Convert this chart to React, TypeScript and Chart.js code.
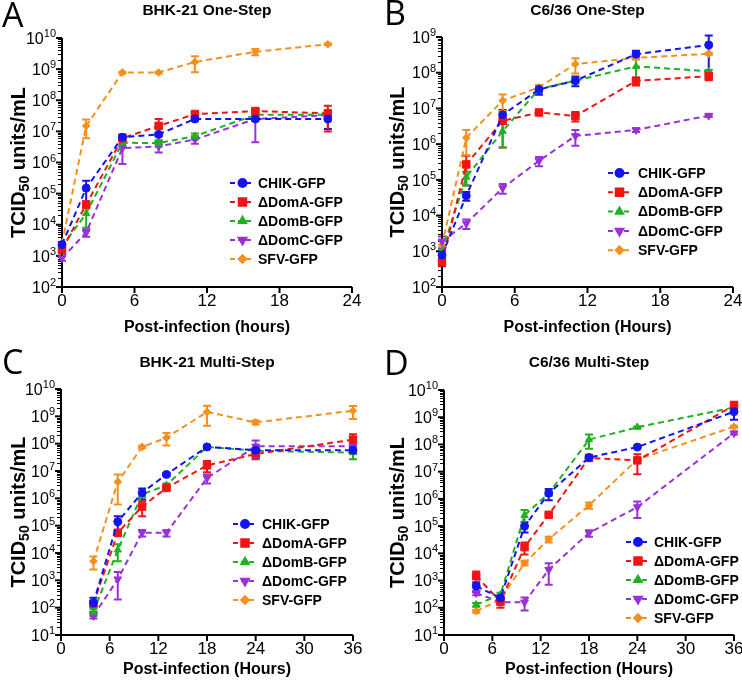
import React, { useEffect, useRef } from 'react';
import { Chart, registerables } from 'chart.js';
import { drawPoint } from 'chart.js/helpers';
Chart.register(...registerables);

// ---------- data ----------
const timesOneStep = [0, 2, 5, 8, 11, 16, 22];
const timesMultiStep = [4, 7, 10, 13, 18, 24, 36];
const seriesNames = ['CHIK-GFP', 'ΔDomA-GFP', 'ΔDomB-GFP', 'ΔDomC-GFP', 'SFV-GFP'];
const xTicksOneStep = [0, 6, 12, 18, 24];
const xTicksMultiStep = [0, 6, 12, 18, 24, 30, 36];

// A: BHK-21 One-Step
const aChik = [2.3e3, 1.5e5, 6.5e6, 8e6, 2.5e7, 2.5e7, 2.5e7];
const aChikSd = [4e2, 1.1e5, 1.5e6, 1e6, 3e6, 3e6, 1.3e7];
const aDomA = [1.6e3, 4.5e4, 6e6, 1.5e7, 3.6e7, 4.5e7, 3.8e7];
const aDomASd = [4e2, 1e4, 1e6, 1e7, 5e6, 8e6, 2.8e7];
const aDomB = [2e3, 2.3e4, 4.3e6, 4.2e6, 7e6, 3.4e7, 3.4e7];
const aDomBSd = [3e2, 1.5e4, 1e6, 1e6, 1.5e6, 5e6, 6e6];
const aDomC = [8.5e2, 5.6e3, 2.9e6, 3.3e6, 5.5e6, 2.5e7, 3.3e7];
const aDomCSd = [1.5e2, 1.5e3, 2e6, 1.2e6, 1.5e6, 2.05e7, 5e6];
const aSfv = [2.5e3, 1.5e7, 7.8e8, 7.8e8, 1.7e9, 3.6e9, 6.3e9];
const aSfvSd = [3e2, 9e6, 5e7, 5e7, 9e8, 8e8, 3e8];

// B: C6/36 One-Step
const bChik = [7.8e2, 3.6e4, 6.6e6, 3.4e7, 6e7, 3.3e8, 6e8];
const bChikSd = [2e2, 1e4, 2.5e6, 1e7, 1.8e7, 8e7, 5.1e8];
const bDomA = [5e2, 2.7e5, 4.5e6, 7.7e6, 6.1e6, 5.9e7, 8e7];
const bDomASd = [1.2e2, 2e5, 3.7e6, 1e6, 1.8e6, 1.5e7, 1.8e7];
const bDomB = [1e3, 1.2e5, 2.3e6, 3.5e7, 6e7, 1.5e8, 1.1e8];
const bDomBSd = [2e2, 5e4, 1.5e6, 8e6, 1e7, 8.7e7, 1e7];
const bDomC = [1.9e3, 6e3, 5.9e4, 3.4e5, 1.7e6, 2.5e6, 6.3e6];
const bDomCSd = [7e2, 1.8e3, 1.8e4, 1e5, 8e5, 3e5, 5e5];
const bSfv = [1.5e3, 1.5e6, 1.65e7, 3.9e7, 1.75e8, 2.6e8, 3.4e8];
const bSfvSd = [5e2, 1e6, 8e6, 5e6, 8e7, 2e7, 2e7];

// C: BHK-21 Multi-Step
const cChik = [1.5e2, 1.4e5, 1.6e6, 7.5e6, 7.6e7, 5.8e7, 5.8e7];
const cChikSd = [8e1, 8e4, 7e5, 1e6, 8e6, 1e7, 1.5e7];
const cDomA = [1.4e2, 5.5e4, 5e5, 2.4e6, 1.6e7, 4.2e7, 1.4e8];
const cDomASd = [3e1, 1e4, 2.8e5, 3e5, 7e6, 1.5e7, 8e7];
const cDomB = [7e1, 1.3e4, 1.4e6, 3e6, 7.6e7, 5.5e7, 4.7e7];
const cDomBSd = [2e1, 8e3, 3e5, 5e5, 8e6, 1e7, 2e7];
const cDomC = [5e1, 1.1e3, 5.5e4, 5.5e4, 5.5e6, 8e7, 8e7];
const cDomCSd = [1e1, 9e2, 1.5e4, 1.5e4, 2e6, 5e7, 1e7];
const cSfv = [5e3, 4e6, 7.6e7, 1.65e8, 1.45e9, 6e8, 1.6e9];
const cSfvSd = [2.5e3, 3.4e6, 8e6, 8e7, 1e9, 1e8, 8e8];

// D: C6/36 Multi-Step
const dChik = [6.2e2, 2.3e2, 9.8e4, 1.6e6, 3.3e7, 8e7, 1.6e9];
const dChikSd = [2.5e2, 5e1, 4e4, 7e5, 5e6, 5e6, 8e8];
const dDomA = [1.45e3, 1.7e2, 1.7e4, 2.6e5, 3.2e7, 2.6e7, 2.7e9];
const dDomASd = [7e2, 7e1, 8e3, 3e4, 4e6, 1.8e7, 1e9];
const dDomB = [1.3e2, 3e2, 2.5e5, 1.6e6, 1.5e8, 4.3e8, 2.3e9];
const dDomBSd = [2e1, 6e1, 1.4e5, 3e5, 8e7, 3e7, 2e8];
const dDomC = [3.5e2, 1.6e2, 1.6e2, 2.5e3, 5.6e4, 5e5, 2.6e8];
const dDomCSd = [6e1, 3e1, 8e1, 1.8e3, 1.5e4, 3e5, 3e7];
const dSfv = [7.5e1, 2e2, 4.4e3, 3.3e4, 5.8e5, 2.8e7, 4.5e8];
const dSfvSd = [1e1, 3e1, 8e2, 8e3, 1.5e5, 3e6, 4e7];

// ---------- styles ----------
const COLORS = ['#1414f0', '#f01414', '#22b022', '#9a30d8', '#f5901e'];
const MARKERS = [
  { pointStyle: 'circle', radius: 4, rotation: 0 },
  { pointStyle: 'rect', radius: 5.3, rotation: 0 },
  { pointStyle: 'triangle', radius: 4.2, rotation: 0 },
  { pointStyle: 'triangle', radius: 4.5, rotation: 180 },
  { pointStyle: 'rectRot', radius: 3.8, rotation: 0 },
];
const FONT = '"Liberation Sans", Arial, sans-serif';
const W = 371;
const H = 342;

const panels = [
  {
    letter: 'A', letterX: 2, letterY: 27,
    title: 'BHK-21 One-Step', titleY: 11,
    xTitle: 'Post-infection (hours)',
    times: timesOneStep, xTicks: xTicksOneStep, xMax: 24,
    minExp: 2, maxExp: 10,
    values: [aChik, aDomA, aDomB, aDomC, aSfv],
    errs: [aChikSd, aDomASd, aDomBSd, aDomCSd, aSfvSd],
    area: { left: 62, top: 38, right: 352, bottom: 287 },
    yTitleX: 18,
    legend: { x0: 230, x1: 253, text: 258, y: 183, step: 19 },
    pos: { left: 0, top: 0 },
  },
  {
    letter: 'B', letterX: 13, letterY: 25,
    title: 'C6/36 One-Step', titleY: 11,
    xTitle: 'Post-infection (Hours)',
    times: timesOneStep, xTicks: xTicksOneStep, xMax: 24,
    minExp: 2, maxExp: 9,
    values: [bChik, bDomA, bDomB, bDomC, bSfv],
    errs: [bChikSd, bDomASd, bDomBSd, bDomCSd, bSfvSd],
    area: { left: 71, top: 37, right: 362, bottom: 287 },
    yTitleX: 26,
    legend: { x0: 237, x1: 258, text: 267, y: 173, step: 19.3 },
    pos: { left: 371, top: 0 },
  },
  {
    letter: 'C', letterX: 2, letterY: 32,
    title: 'BHK-21 Multi-Step', titleY: 21,
    xTitle: 'Post-infection (Hours)',
    times: timesMultiStep, xTicks: xTicksMultiStep, xMax: 36,
    minExp: 1, maxExp: 10,
    values: [cChik, cDomA, cDomB, cDomC, cSfv],
    errs: [cChikSd, cDomASd, cDomBSd, cDomCSd, cSfvSd],
    area: { left: 61, top: 47, right: 353, bottom: 293 },
    yTitleX: 18,
    legend: { x0: 233, x1: 255, text: 262, y: 182, step: 19 },
    pos: { left: 0, top: 342 },
  },
  {
    letter: 'D', letterX: 13, letterY: 33,
    title: 'C6/36 Multi-Step', titleY: 21,
    xTitle: 'Post-infection (Hours)',
    times: timesMultiStep, xTicks: xTicksMultiStep, xMax: 36,
    minExp: 1, maxExp: 10,
    values: [dChik, dDomA, dDomB, dDomC, dSfv],
    errs: [dChikSd, dDomASd, dDomBSd, dDomCSd, dSfvSd],
    area: { left: 73, top: 48, right: 363, bottom: 293 },
    yTitleX: 26,
    legend: { x0: 255, x1: 277, text: 283, y: 200, step: 19 },
    pos: { left: 371, top: 342 },
  },
];

function makeDeco(cfg) {
  return {
    id: 'deco' + cfg.letter,
    beforeDatasetsDraw(chart) {
      const ctx = chart.ctx;
      const xs = chart.scales.x;
      const ys = chart.scales.y;
      const { left, top, right, bottom } = chart.chartArea;
      const yMin = 10 ** cfg.minExp;
      ctx.save();
      // error bars
      cfg.values.forEach((vals, s) => {
        const sds = cfg.errs[s];
        ctx.strokeStyle = COLORS[s];
        ctx.lineWidth = 2;
        ctx.setLineDash([]);
        vals.forEach((v, i) => {
          const sd = sds[i];
          if (!sd) return;
          const hi = v + sd;
          const lo = Math.max(v - sd, yMin);
          const x = xs.getPixelForValue(cfg.times[i]);
          const yh = ys.getPixelForValue(hi);
          const yl = ys.getPixelForValue(lo);
          ctx.beginPath();
          ctx.moveTo(x, yh);
          ctx.lineTo(x, yl);
          ctx.moveTo(x - 4, yh);
          ctx.lineTo(x + 4, yh);
          ctx.moveTo(x - 4, yl);
          ctx.lineTo(x + 4, yl);
          ctx.stroke();
        });
      });
      // axes
      ctx.strokeStyle = '#000';
      ctx.lineWidth = 2;
      ctx.beginPath();
      ctx.moveTo(left, top);
      ctx.lineTo(left, bottom + 1);
      ctx.moveTo(left - 1, bottom);
      ctx.lineTo(right, bottom);
      ctx.stroke();
      // y ticks
      for (let e = cfg.minExp; e <= cfg.maxExp; e++) {
        const y = ys.getPixelForValue(10 ** e);
        ctx.lineWidth = 2;
        ctx.beginPath();
        ctx.moveTo(left, y);
        ctx.lineTo(left - 6, y);
        ctx.stroke();
        if (e < cfg.maxExp) {
          ctx.lineWidth = 1;
          for (let k = 2; k <= 9; k++) {
            const ym = Math.round(ys.getPixelForValue(k * 10 ** e)) + 0.5;
            ctx.beginPath();
            ctx.moveTo(left, ym);
            ctx.lineTo(left - 4, ym);
            ctx.stroke();
          }
        }
      }
      // x ticks
      ctx.lineWidth = 2;
      cfg.xTicks.forEach((t) => {
        const x = xs.getPixelForValue(t);
        ctx.beginPath();
        ctx.moveTo(x, bottom);
        ctx.lineTo(x, bottom + 6);
        ctx.stroke();
      });
      ctx.restore();
    },
    afterDraw(chart) {
      const ctx = chart.ctx;
      const xs = chart.scales.x;
      const ys = chart.scales.y;
      const { left, top, right, bottom } = chart.chartArea;
      ctx.save();
      ctx.fillStyle = '#000';
      // y tick labels
      const labelRight = left - 6;
      for (let e = cfg.minExp; e <= cfg.maxExp; e++) {
        const y = ys.getPixelForValue(10 ** e);
        const es = String(e);
        ctx.font = `11px ${FONT}`;
        const we = ctx.measureText(es).width;
        ctx.textAlign = 'right';
        ctx.textBaseline = 'alphabetic';
        ctx.font = `16px ${FONT}`;
        ctx.fillText('10', labelRight - we, y + 5.7);
        ctx.font = `11px ${FONT}`;
        ctx.textAlign = 'left';
        ctx.fillText(es, labelRight - we, y - 1);
      }
      // x tick labels
      ctx.font = `17px ${FONT}`;
      ctx.textAlign = 'center';
      ctx.textBaseline = 'top';
      cfg.xTicks.forEach((t) => {
        ctx.fillText(String(t), xs.getPixelForValue(t), bottom + 6);
      });
      // x title
      ctx.font = `bold 16px ${FONT}`;
      ctx.textBaseline = 'middle';
      ctx.fillText(cfg.xTitle, (left + right) / 2, 328);
      // chart title
      ctx.font = `bold 15.5px ${FONT}`;
      ctx.fillText(cfg.title, (left + right) / 2, cfg.titleY);
      // panel letter
      ctx.font = `34px "Open Sans", ${FONT}`;
      ctx.textAlign = 'left';
      ctx.textBaseline = 'alphabetic';
      ctx.fillText(cfg.letter, cfg.letterX, cfg.letterY);
      // y title with subscript
      ctx.save();
      ctx.translate(cfg.yTitleX, (top + bottom) / 2);
      ctx.rotate(-Math.PI / 2);
      const f1 = `bold 20px ${FONT}`;
      const f2 = `bold 14px ${FONT}`;
      ctx.font = f1;
      const w1 = ctx.measureText('TCID').width;
      const w3 = ctx.measureText(' units/mL').width;
      ctx.font = f2;
      const w2 = ctx.measureText('50').width;
      let px = -(w1 + w2 + w3) / 2;
      ctx.textAlign = 'left';
      ctx.font = f1;
      ctx.fillText('TCID', px, 7);
      px += w1;
      ctx.font = f2;
      ctx.fillText('50', px, 11);
      px += w2;
      ctx.font = f1;
      ctx.fillText(' units/mL', px, 7);
      ctx.restore();
      // legend
      const lg = cfg.legend;
      seriesNames.forEach((name, s) => {
        const y = lg.y + s * lg.step;
        ctx.strokeStyle = COLORS[s];
        ctx.fillStyle = COLORS[s];
        ctx.lineWidth = 2;
        ctx.setLineDash([5, 3]);
        ctx.beginPath();
        ctx.moveTo(lg.x0, y);
        ctx.lineTo(lg.x1, y);
        ctx.stroke();
        ctx.setLineDash([]);
        drawPoint(ctx, { pointStyle: MARKERS[s].pointStyle, rotation: MARKERS[s].rotation, radius: MARKERS[s].radius, borderWidth: 1 }, (lg.x0 + lg.x1) / 2 + 1, y);
        ctx.fillStyle = '#000';
        ctx.font = `bold 14px ${FONT}`;
        ctx.textAlign = 'left';
        ctx.textBaseline = 'middle';
        ctx.fillText(name, lg.text, y + 1);
      });
      ctx.restore();
    },
  };
}

function Panel({ cfg }) {
  const ref = useRef(null);
  useEffect(() => {
    const chart = new Chart(ref.current, {
      type: 'line',
      data: {
        datasets: cfg.values.map((vals, s) => ({
          label: seriesNames[s],
          data: cfg.times.map((t, i) => ({ x: t, y: vals[i] })),
          borderColor: COLORS[s],
          backgroundColor: COLORS[s],
          borderWidth: 2,
          borderDash: [6, 4],
          pointStyle: MARKERS[s].pointStyle,
          pointRadius: MARKERS[s].radius,
          pointRotation: MARKERS[s].rotation,
          pointBorderWidth: 1,
          pointBackgroundColor: COLORS[s],
          pointBorderColor: COLORS[s],
          tension: 0,
          fill: false,
          clip: false,
        })),
      },
      options: {
        responsive: false,
        animation: false,
        events: [],
        devicePixelRatio: 1,
        layout: {
          padding: {
            left: cfg.area.left,
            top: cfg.area.top,
            right: W - cfg.area.right,
            bottom: H - cfg.area.bottom,
          },
        },
        plugins: {
          legend: { display: false },
          title: { display: false },
          tooltip: { enabled: false },
        },
        scales: {
          x: { type: 'linear', min: 0, max: cfg.xMax, display: false },
          y: { type: 'logarithmic', min: 10 ** cfg.minExp, max: 10 ** cfg.maxExp, display: false },
        },
      },
      plugins: [makeDeco(cfg)],
    });
    return () => chart.destroy();
  }, []);
  return (
    <div style={{ position: 'absolute', left: cfg.pos.left, top: cfg.pos.top, width: W, height: H }}>
      <canvas ref={ref} width={W} height={H} style={{ width: W, height: H, display: 'block' }} />
    </div>
  );
}

export default function App() {
  return (
    <div style={{ position: 'absolute', left: 0, top: 0, width: 742, height: 684, background: '#fff', overflow: 'hidden' }}>
      {panels.map((p) => (
        <Panel key={p.letter} cfg={p} />
      ))}
    </div>
  );
}
